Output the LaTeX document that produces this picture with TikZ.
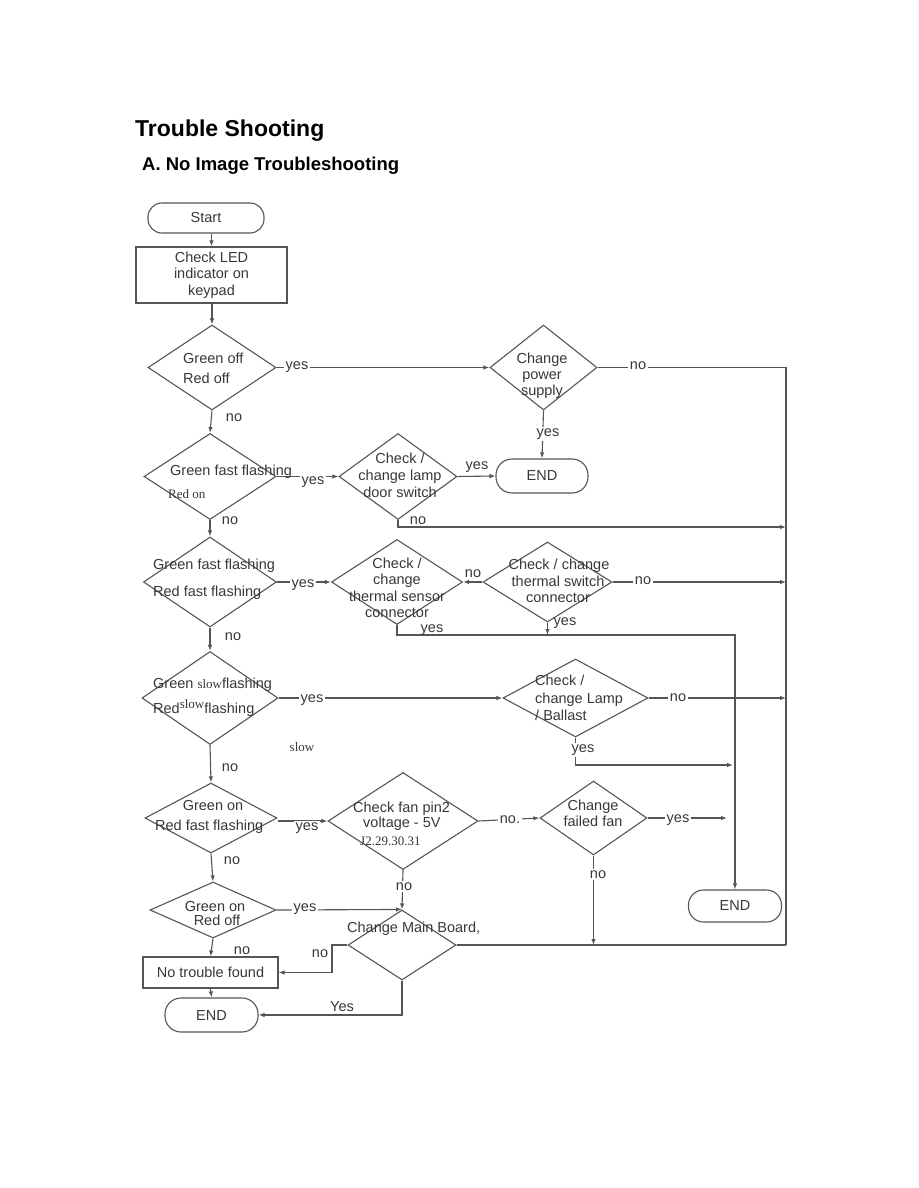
\documentclass[tikz,border=0pt]{standalone}
\usepackage{fontspec}
\setmainfont{Liberation Sans}
\newfontfamily\serf{Liberation Serif}
\usetikzlibrary{shapes.geometric,arrows.meta}
\definecolor{linec}{HTML}{555555}
\definecolor{textc}{HTML}{383838}
\newcommand\bodyfs{\fontsize{14.5}{16.5}\selectfont}
\newcommand\smserf{\serf\fontsize{13}{15}\selectfont}
\begin{document}
\begin{tikzpicture}[x=1pt,y=-1pt,
 ln/.style={draw=linec,line width=1.1pt},
 arr/.style={ln,-{Latex[length=6pt,width=4.5pt]}},
 dia/.style={ln,diamond,inner sep=0pt},
 term/.style={ln,rectangle,rounded corners=14pt,inner sep=0pt,font=\bodyfs,text=textc},
 box/.style={ln,rectangle,inner sep=0pt,font=\bodyfs,text=textc,align=center},
 txt/.style={inner sep=0pt,font=\bodyfs,text=textc,align=center},
 lab/.style={txt,anchor=base},
 labw/.style={txt,anchor=base,fill=white,inner sep=1.5pt}]
\useasboundingbox (0,0) rectangle (918,1188);
\fill[white] (0,0) rectangle (918,1188);

% titles
\node[anchor=base west,inner sep=0pt,font=\fontsize{23}{26}\selectfont\bfseries] (title) at (135,136) {Trouble Shooting};
\node[anchor=base west,inner sep=0pt,font=\fontsize{18.5}{22}\selectfont\bfseries] (sub) at (142,170) {A. No Image Troubleshooting};

% shapes
\node[term,minimum width=116pt,minimum height=30pt] (start) at (206,218) {Start};
\node[box,minimum width=151pt,minimum height=56pt] (led) at (211.5,275) {Check LED\\indicator on\\keypad};
\node[dia,minimum width=128pt,minimum height=85pt] (d1) at (212,367.5) {};
\node[dia,minimum width=107pt,minimum height=85pt] (ps) at (543.5,367.5) {};
\node[dia,minimum width=132pt,minimum height=86pt] (d2) at (210,476.5) {};
\node[dia,minimum width=118pt,minimum height=86pt] (d3) at (398,476.5) {};
\node[term,minimum width=92pt,minimum height=34pt,rounded corners=16pt] (end1) at (542,476) {END};
\node[dia,minimum width=133pt,minimum height=90pt] (d4) at (210,582) {};
\node[dia,minimum width=131pt,minimum height=85pt] (d5) at (397,582) {};
\node[dia,minimum width=129pt,minimum height=80pt] (d6) at (547.5,582) {};
\node[dia,minimum width=136pt,minimum height=93pt] (d7) at (210,698) {};
\node[dia,minimum width=145pt,minimum height=78pt] (d8) at (575.5,698) {};
\node[dia,minimum width=132pt,minimum height=70pt] (d9) at (211,818) {};
\node[dia,minimum width=150pt,minimum height=97pt] (d10) at (403,821) {};
\node[dia,minimum width=107pt,minimum height=74pt] (d11) at (593.5,818) {};
\node[term,minimum width=93pt,minimum height=32pt,rounded corners=15pt] (end2) at (735,906) {END};
\node[dia,minimum width=126pt,minimum height=56pt] (d12) at (213,910) {};
\node[dia,minimum width=108pt,minimum height=70pt] (d13) at (402,945) {};
\node[box,minimum width=135pt,minimum height=31pt] (ntf) at (210.5,972.5) {No trouble found};
\node[term,minimum width=93pt,minimum height=34pt,rounded corners=16pt] (end3) at (211.5,1015) {END};

% helper coordinates
\coordinate (rt) at (786,367.5);
\coordinate (rb) at (786,945);
\coordinate (r3) at (786,527);
\coordinate (r6) at (786,582);
\coordinate (r8) at (786,698);
\coordinate (ya) at (735,635);
\coordinate (y8) at (733,765);
\coordinate (y11) at (727,818);
\coordinate (n13) at (332,972.5);

% connectors
\draw[arr] (led.north |- start.south) -- (led.north);
\draw[arr] (d1.north |- led.south) -- (d1.north);
\draw[arr] (d1.east) -- (ps.west);
\draw[ln] (ps.east) -- (rt) -- (rb);
\draw[arr] (ps.south) -- (end1.north);
\draw[arr] (d1.south) -- (d2.north);
\draw[arr] (d2.east) -- (d3.west);
\draw[arr] (d3.east) -- (end1.west);
\draw[arr] (d3.south) |- (r3);
\draw[arr] (d2.south) -- (d4.north);
\draw[arr] (d4.east) -- (d5.west);
\draw[arr] (d6.west) -- (d5.east);
\draw[arr] (d6.east) -- (r6);
\draw[arr] (d6.south) -- (d6.south |- ya);
\draw[arr] (d5.south) |- (ya) -- (ya |- end2.north);
\draw[arr] (d4.south) -- (d7.north);
\draw[arr] (d7.east) -- (d8.west);
\draw[arr] (d8.east) -- (r8);
\draw[arr] (d8.south) |- (y8);
\draw[arr] (d7.south) -- (d9.north);
\draw[arr] (d10.west -| d9.east) -- (d10.west);
\draw[arr] (d10.east) -- (d11.west);
\draw[arr] (d11.east) -- (y11);
\draw[arr] (d11.south) -- (d11.south |- rb);
\draw[arr] (d9.south) -- (d12.north);
\draw[arr] (d12.east) -- (d13.north);
\draw[arr] (d10.south) -- (d13.north);
\draw[ln] (d13.east) -- (rb);
\draw[arr] (d13.west) -| (n13) -- (ntf.east);
\draw[arr] (d12.south) -- (ntf.north);
\draw[arr] (ntf.south) -- (end3.north);
\draw[arr] (d13.south) |- (end3.east);

% diamond texts
\node[txt,anchor=base west] (t1a) at (183,363) {Green off};
\node[txt,anchor=base west] (t1b) at (183,383) {Red off};
\node[txt,anchor=base] (tpa) at (542,363) {Change};
\node[txt,anchor=base] (tpb) at (542,379) {power};
\node[txt,anchor=base] (tpc) at (542,395) {supply};
\node[txt,anchor=base west] (t2a) at (170,475) {Green fast flashing};
\node[txt,anchor=base west,font=\smserf] (t2b) at (168,498) {Red on};
\node[txt,anchor=base] (t3a) at (400,463) {Check /};
\node[txt,anchor=base] (t3b) at (400,480) {change lamp};
\node[txt,anchor=base] (t3c) at (400,497) {door switch};
\node[txt,anchor=base west] (t4a) at (153,569) {Green fast flashing};
\node[txt,anchor=base west] (t4b) at (153,596) {Red fast flashing};
\node[txt,anchor=base] (t5a) at (397,568) {Check /};
\node[txt,anchor=base] (t5b) at (397,584.5) {change};
\node[txt,anchor=base] (t5c) at (397,601) {thermal sensor};
\node[txt,anchor=base] (t5d) at (397,617.5) {connector};
\node[txt,anchor=base] (t6a) at (559,569) {Check / change};
\node[txt,anchor=base] (t6b) at (558,586) {thermal switch};
\node[txt,anchor=base] (t6c) at (558,602) {connector};
\node[txt,anchor=base west] (t7a) at (153,688) {Green {\smserf slow}flashing};
\node[txt,anchor=base west] (t7b) at (153,713) {Red\raisebox{5pt}{\smserf slow}flashing};
\node[txt,anchor=base,font=\smserf] (slow) at (302,751) {slow};
\node[txt,anchor=base west] (t8a) at (535,685) {Check /};
\node[txt,anchor=base west] (t8b) at (535,703) {change Lamp};
\node[txt,anchor=base west] (t8c) at (535,720) {/ Ballast};
\node[txt,anchor=base] (t9a) at (213,810) {Green on};
\node[txt,anchor=base west] (t9b) at (155,830) {Red fast flashing};
\node[txt,anchor=base west] (t10a) at (353,812) {Check fan pin2};
\node[txt,anchor=base west] (t10b) at (363,827) {voltage - 5V};
\node[txt,anchor=base west,font=\smserf] (t10c) at (360,845) {J2.29.30.31};
\node[txt,anchor=base] (t11a) at (593,810) {Change};
\node[txt,anchor=base] (t11b) at (593,826) {failed fan};
\node[txt,anchor=base] (t12a) at (215,911) {Green on};
\node[txt,anchor=base] (t12b) at (217,925.5) {Red off};
\node[txt,anchor=base west] (t13a) at (347,932) {Change Main Board,};

% connector labels
\node[labw] (l1y) at (297,369) {yes};
\node[lab] (l1n) at (234,421) {no};
\node[labw] (lpn) at (638,369) {no};
\node[labw] (lpy) at (548,436) {yes};
\node[labw] (l2y) at (313,484) {yes};
\node[lab] (l3y) at (477,469) {yes};
\node[lab] (l3n) at (418,524) {no};
\node[lab] (l2n) at (230,524) {no};
\node[labw] (l4y) at (303,587) {yes};
\node[lab] (l6l) at (473,577) {no};
\node[labw] (l6n) at (643,584) {no};
\node[lab] (l6y) at (565,625) {yes};
\node[lab] (l5y) at (432,632) {yes};
\node[lab] (l4n) at (233,640) {no};
\node[labw] (l7y) at (312,702) {yes};
\node[labw] (l8n) at (678,701) {no};
\node[labw] (l8y) at (583,752) {yes};
\node[lab] (l7n) at (230,771) {no};
\node[labw] (l9y) at (307,830) {yes};
\node[lab] (l9n) at (232,864) {no};
\node[labw] (l10n) at (510,823) {no.};
\node[labw] (l11y) at (678,822) {yes};
\node[labw] (l11n) at (598,878) {no};
\node[labw] (l10d) at (404,890) {no};
\node[labw] (l12y) at (305,911) {yes};
\node[lab] (l12n) at (242,954) {no};
\node[lab] (l13n) at (320,957) {no};
\node[lab] (l13y) at (342,1011) {Yes};
\end{tikzpicture}
\end{document}
